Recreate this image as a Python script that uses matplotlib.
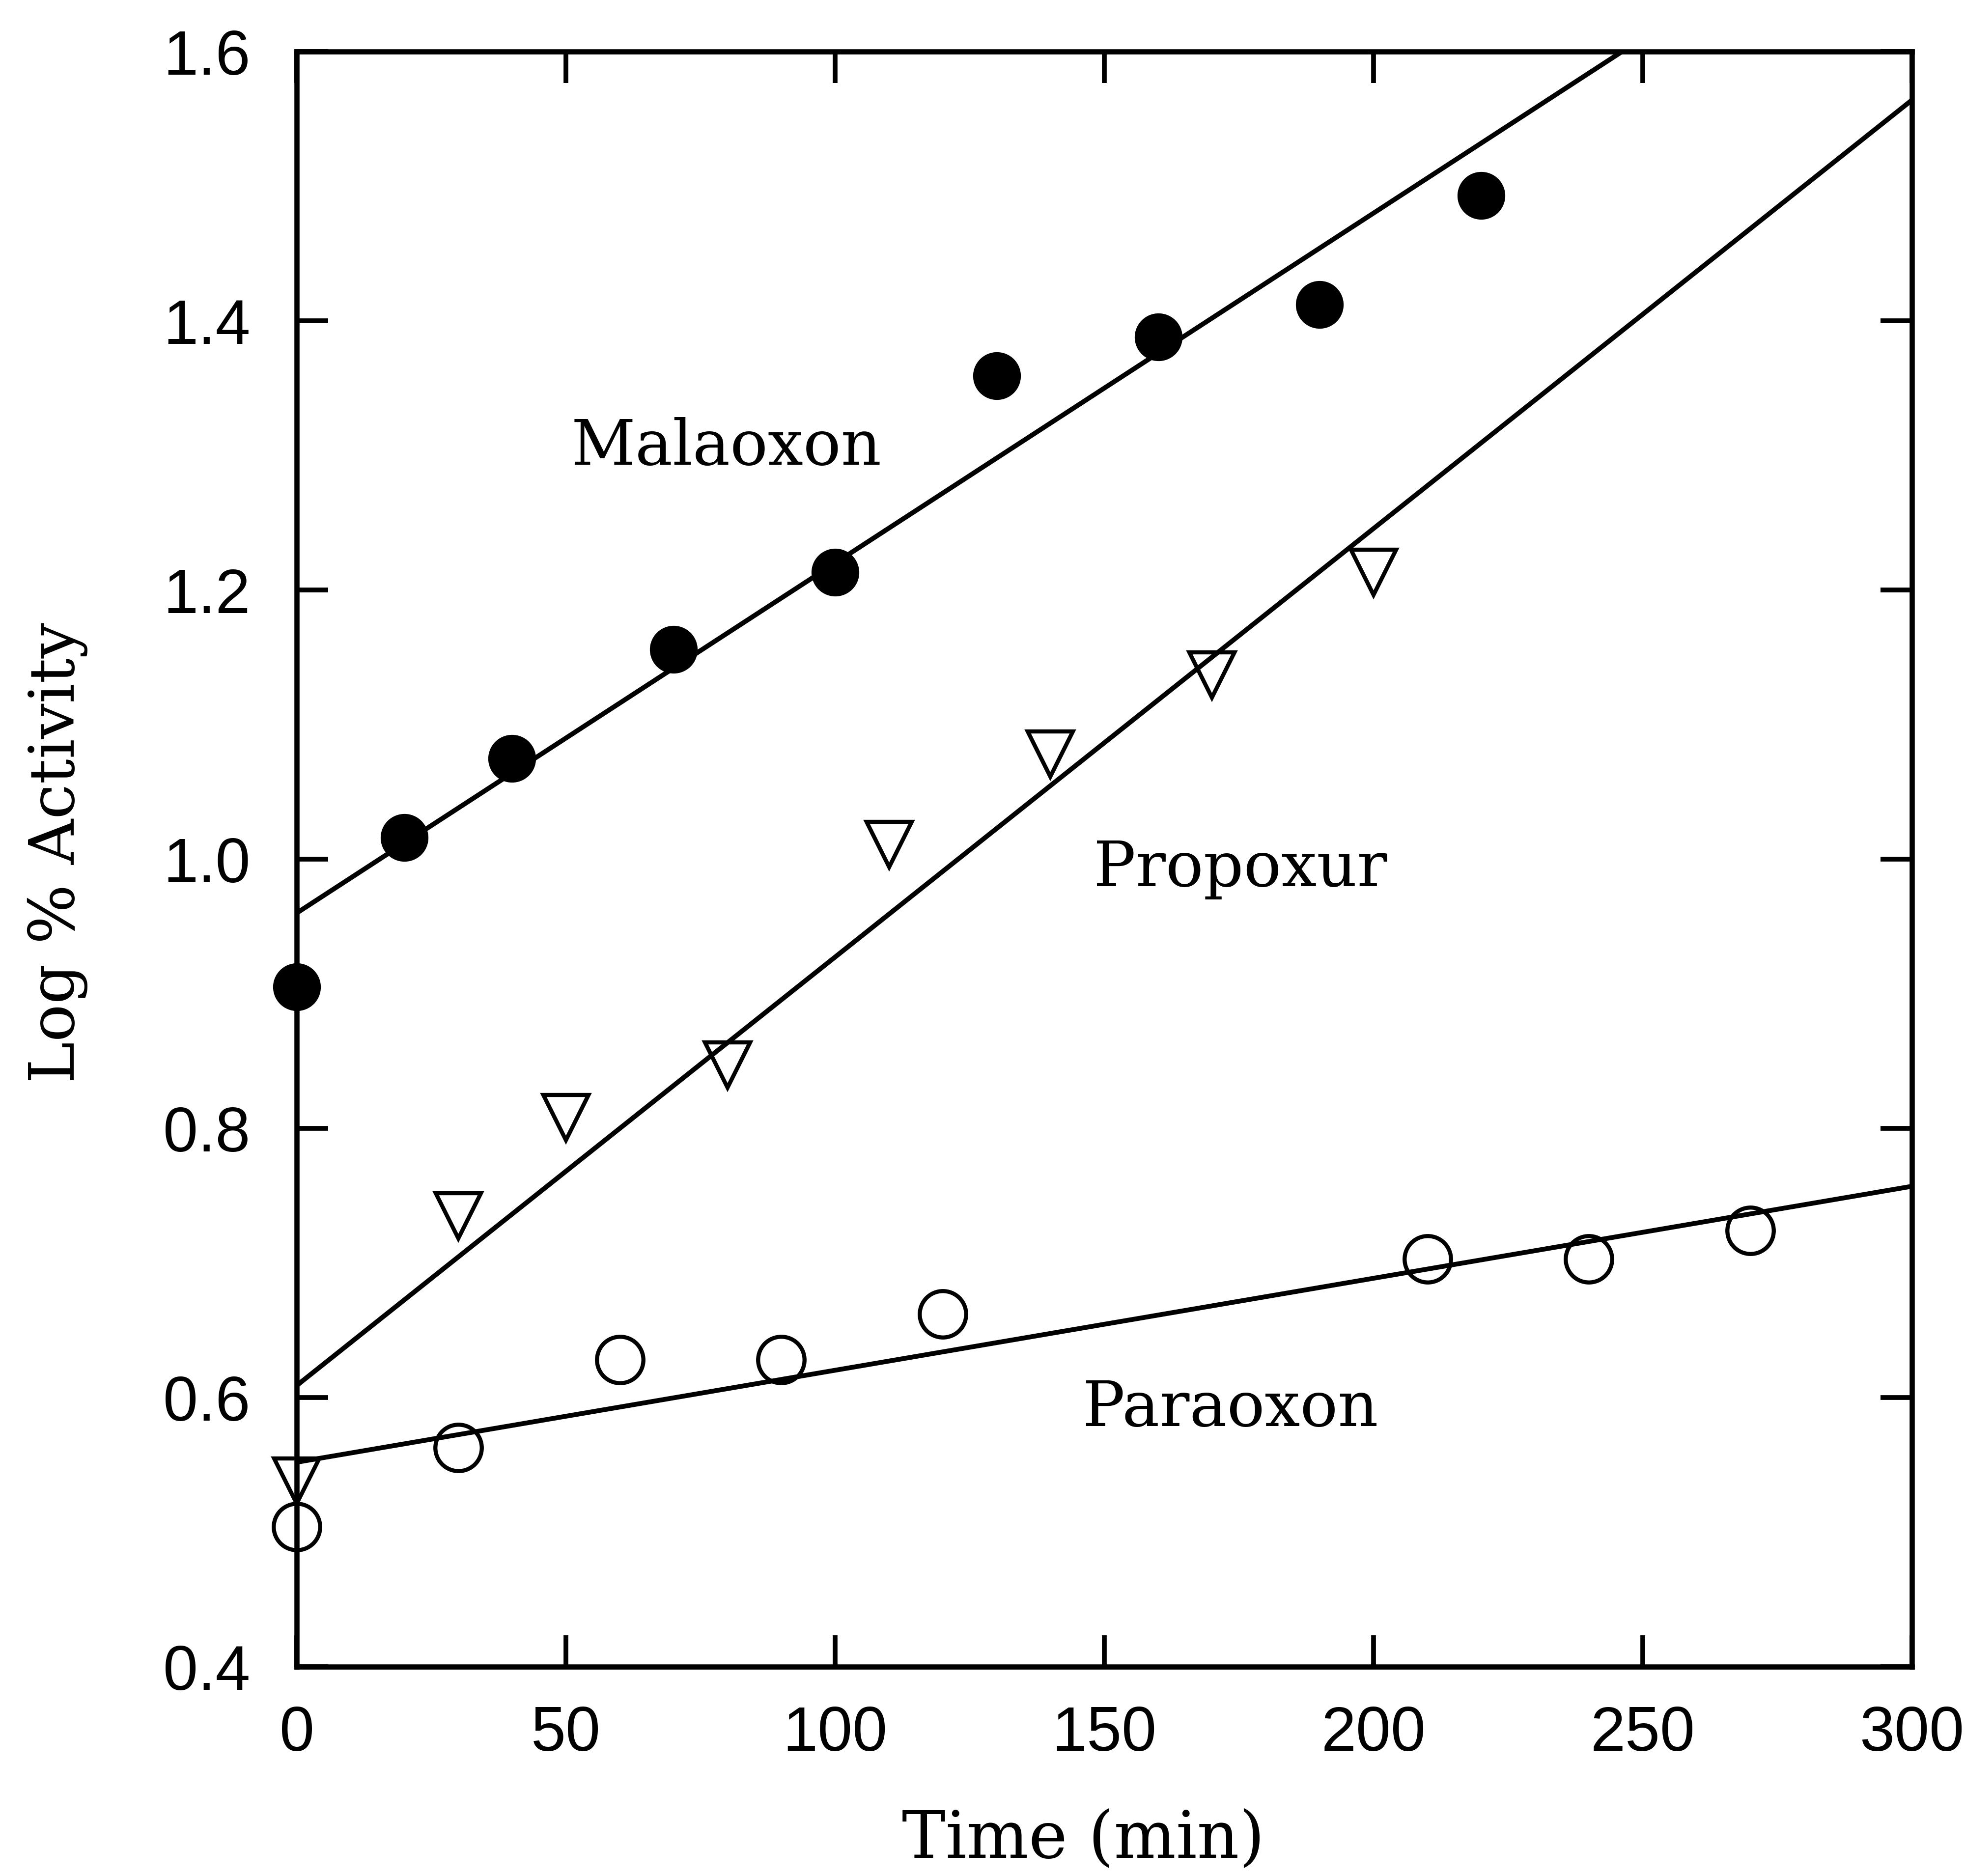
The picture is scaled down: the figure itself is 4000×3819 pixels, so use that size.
import numpy as np
import matplotlib
matplotlib.use('Agg')
from matplotlib import pyplot as plt

# data
mal_t = [0, 20, 40, 70, 100, 130, 160, 190, 220]
mal_y = [0.905, 1.016, 1.075, 1.156, 1.213, 1.359, 1.388, 1.412, 1.493]
pro_t = [0, 30, 50, 80, 110, 140, 170, 200]
pro_y = [0.538, 0.735, 0.808, 0.847, 1.011, 1.078, 1.137, 1.213]
par_t = [0, 30, 60, 90, 120, 210, 240, 270]
par_y = [0.504, 0.563, 0.628, 0.628, 0.662, 0.703, 0.703, 0.724]

# fitted lines as drawn (value at t=0 and t=300)
fit_t = [0, 300]
mal_fit = [0.960, 1.740]
pro_fit = [0.609, 1.564]
par_fit = [0.552, 0.757]

xticks = [0, 50, 100, 150, 200, 250, 300]
yticks = [0.4, 0.6, 0.8, 1.0, 1.2, 1.4, 1.6]

serif = 'DejaVu Serif'
sans = 'Liberation Sans'

fig = plt.figure(figsize=(20, 19.095), dpi=200)
ax = fig.add_axes([0.151, 0.1115, 0.822, 0.861])

lw = 3.5
ax.plot(fit_t, mal_fit, color='k', lw=lw, zorder=2)
ax.plot(fit_t, pro_fit, color='k', lw=lw, zorder=2)
ax.plot(fit_t, par_fit, color='k', lw=lw, zorder=2)

ax.plot(mal_t, mal_y, 'o', ms=34, mfc='k', mec='k', mew=1, zorder=3, clip_on=False)
ax.plot(pro_t, pro_y, 'v', ms=33, mfc='none', mec='k', mew=3, zorder=3, clip_on=False)
ax.plot(par_t, par_y, 'o', ms=34, mfc='none', mec='k', mew=3, zorder=3, clip_on=False)

ax.set_xlim(0, 300)
ax.set_ylim(0.4, 1.6)
ax.set_xticks(xticks)
ax.set_yticks(yticks)
ax.set_xticklabels([str(v) for v in xticks], fontsize=46, family=sans)
ax.set_yticklabels(['%.1f' % v for v in yticks], fontsize=46, family=sans)
ax.tick_params(axis='both', direction='in', length=23, width=3.5,
               top=True, right=True)
ax.tick_params(axis='x', pad=28)
ax.tick_params(axis='y', pad=34)
for s in ax.spines.values():
    s.set_linewidth(3.8)

ax.set_xlabel('Time (min)', fontsize=48, family=serif)
ax.set_ylabel('Log % Activity', fontsize=46, family=serif)
ax.xaxis.label.set_va('center')
ax.yaxis.label.set_va('center')
ax.xaxis.set_label_coords(0.487, -0.107)
ax.yaxis.set_label_coords(-0.148, 0.504)

ax.text(51, 1.293, 'Malaoxon', fontsize=46, family=serif, va='baseline', ha='left')
ax.text(148, 0.980, 'Propoxur', fontsize=46, family=serif, va='baseline', ha='left')
ax.text(146, 0.579, 'Paraoxon', fontsize=46, family=serif, va='baseline', ha='left')

plt.savefig('out.png', dpi=200, facecolor='white')
